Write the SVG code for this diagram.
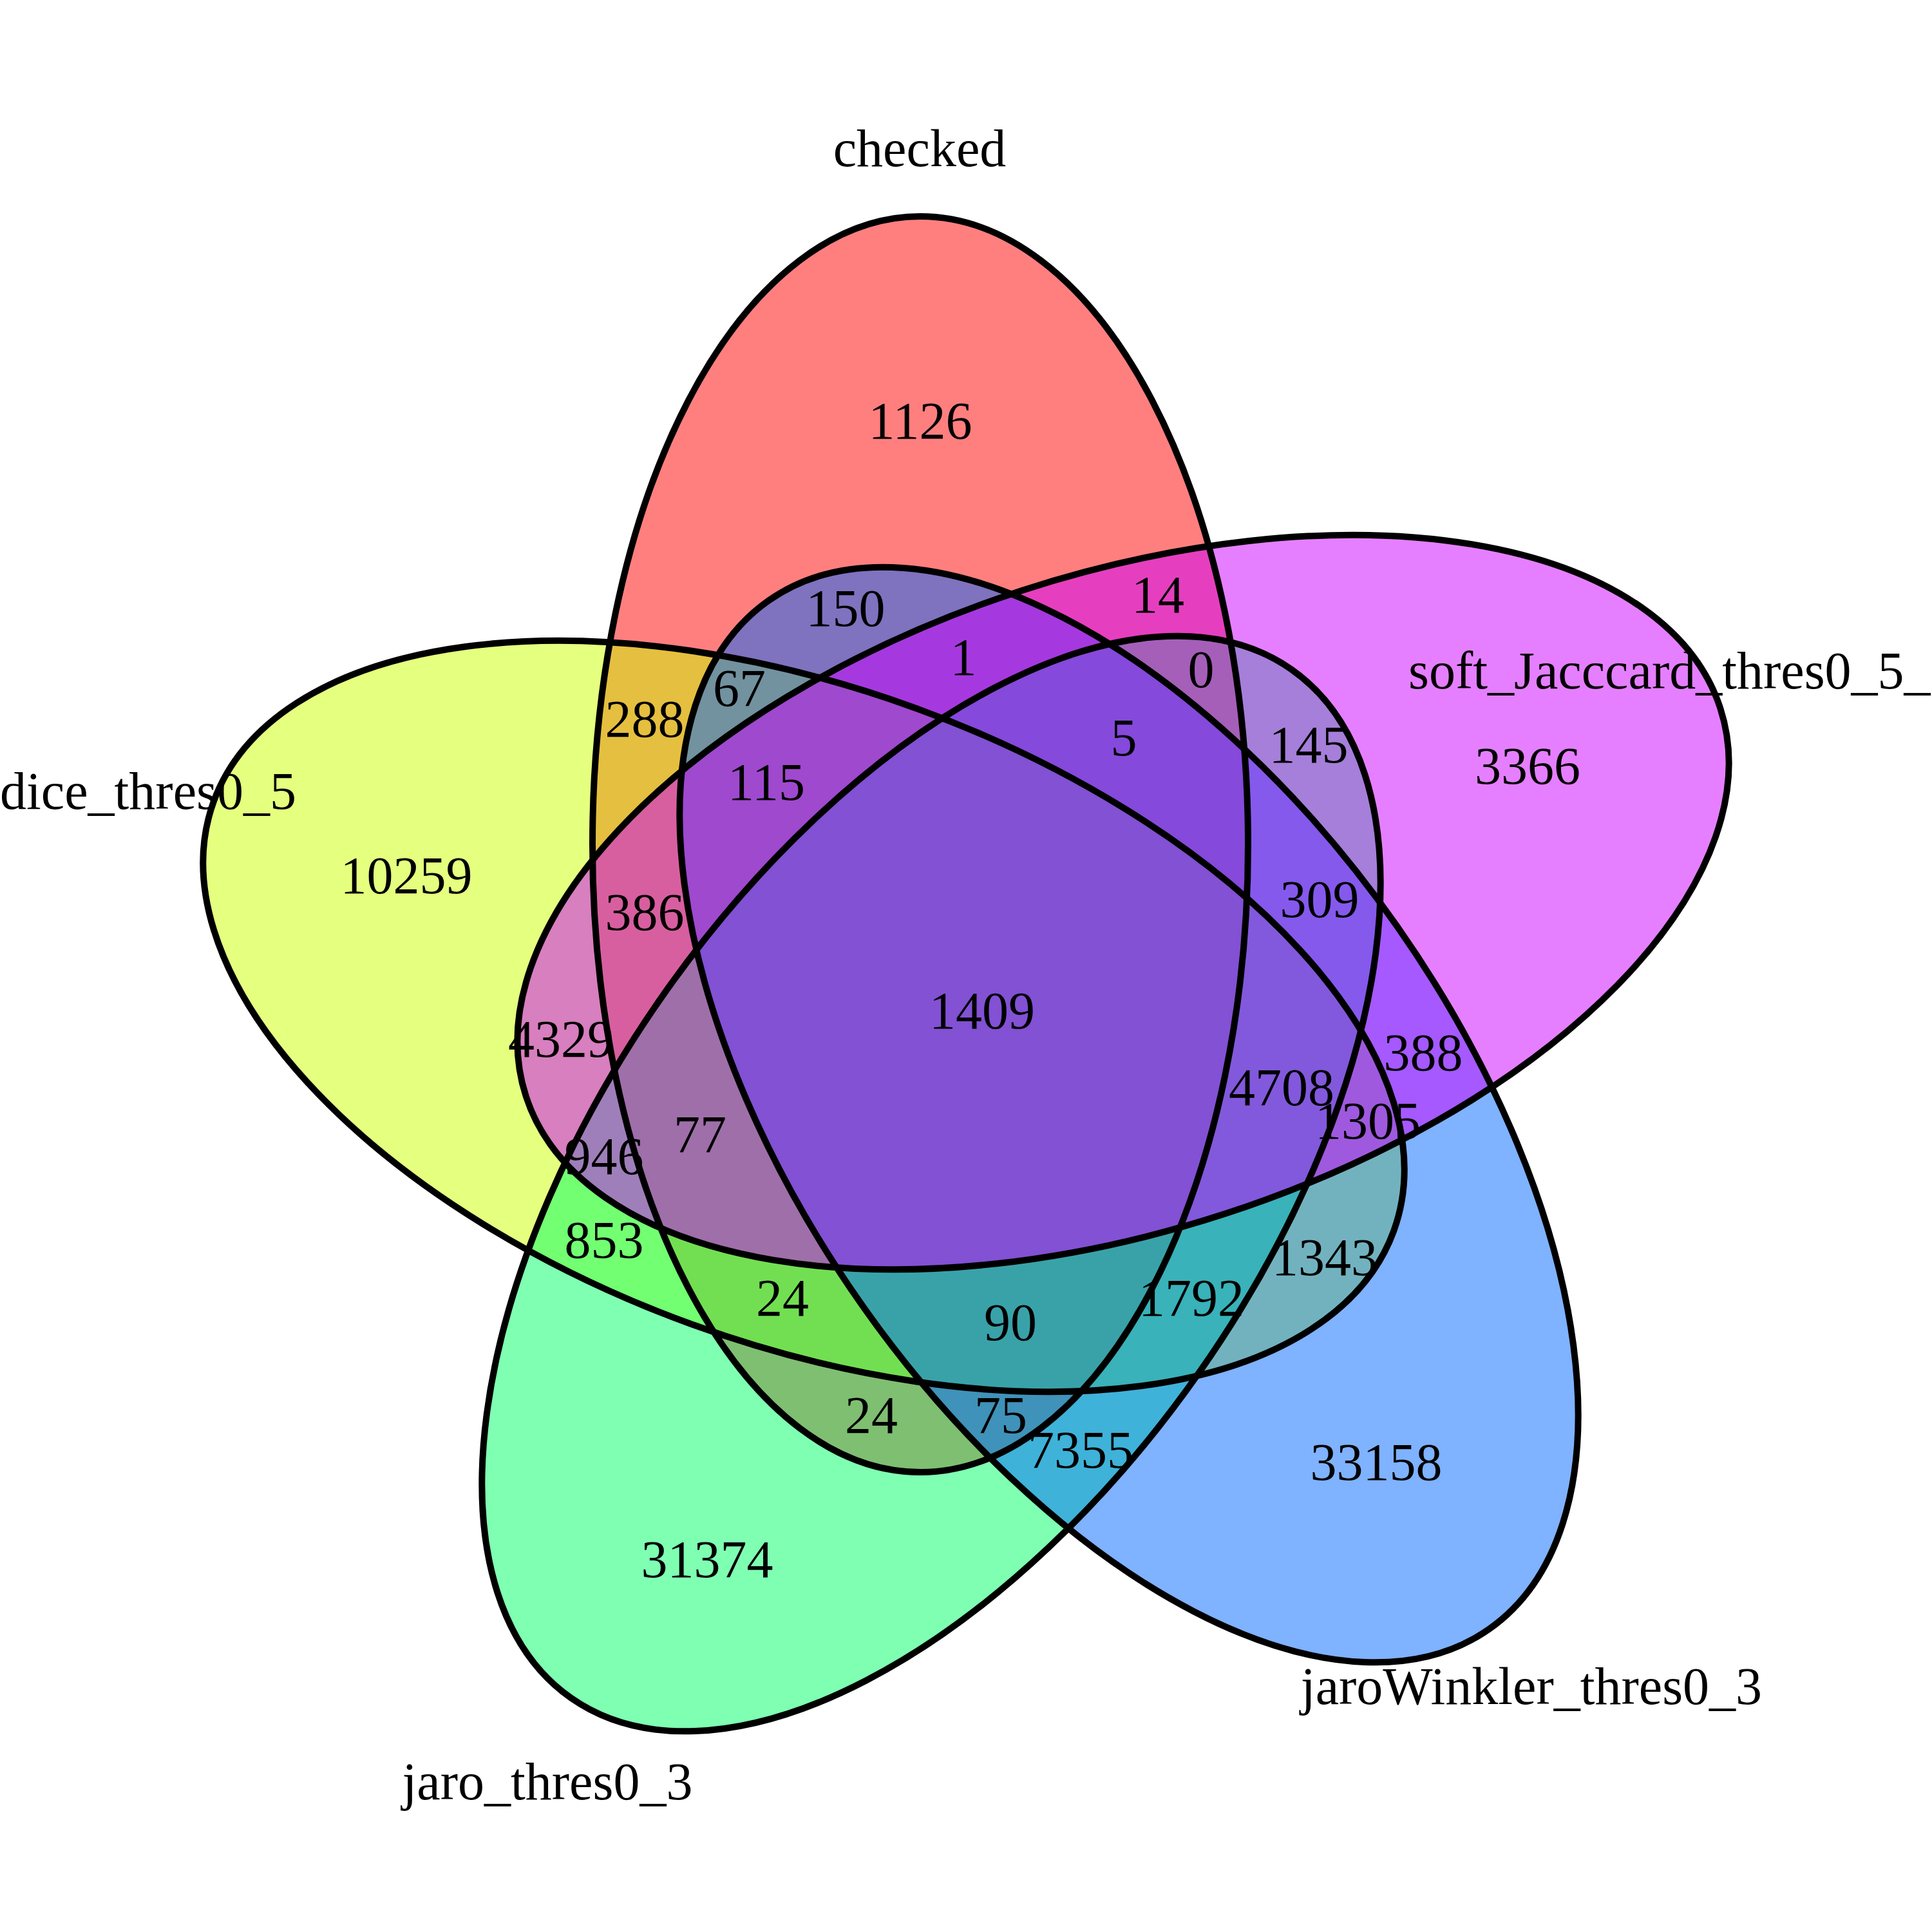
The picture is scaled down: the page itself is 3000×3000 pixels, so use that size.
<svg xmlns="http://www.w3.org/2000/svg" xmlns:xlink="http://www.w3.org/1999/xlink" width="3000" height="3000" viewBox="0 0 3000 3000">
<style>
.fill{stroke:none;fill-opacity:0.5}
.outline{fill:none;stroke:#000;stroke-width:10}
text{font-family:"Liberation Serif","Times New Roman",serif;font-size:82px;fill:#000}
.num{text-anchor:middle}
.cat{text-anchor:middle}
</style>
<defs>
<ellipse id="shape-checked" cx="1429" cy="1311" rx="509" ry="975"/>
<ellipse id="shape-dice" cx="0" cy="0" rx="509" ry="975" transform="translate(1248,1578) rotate(-70)"/>
<ellipse id="shape-jaro" cx="0" cy="0" rx="509" ry="975" transform="translate(1446,1838) rotate(-145)"/>
<ellipse id="shape-jaroWinkler" cx="0" cy="0" rx="509" ry="975" transform="translate(1753,1731) rotate(145)"/>
<ellipse id="shape-soft" cx="0" cy="0" rx="509" ry="975" transform="translate(1744,1401) rotate(72)"/>
</defs>
<rect width="3000" height="3000" fill="#fff"/>
<g id="set-checked"><use xlink:href="#shape-checked" class="fill" fill="#FF0000"/></g>
<g id="set-dice"><use xlink:href="#shape-dice" class="fill" fill="#CCFF00"/></g>
<g id="set-jaro"><use xlink:href="#shape-jaro" class="fill" fill="#00FF66"/></g>
<g id="set-jaroWinkler"><use xlink:href="#shape-jaroWinkler" class="fill" fill="#0066FF"/></g>
<g id="set-soft"><use xlink:href="#shape-soft" class="fill" fill="#CC00FF"/></g>
<g id="outlines">
<use xlink:href="#shape-checked" class="outline"/>
<use xlink:href="#shape-dice" class="outline"/>
<use xlink:href="#shape-jaro" class="outline"/>
<use xlink:href="#shape-jaroWinkler" class="outline"/>
<use xlink:href="#shape-soft" class="outline"/>
</g>
<g id="counts">
<text class="num" x="1429" y="681">1126</text>
<text class="num" x="1798" y="951">14</text>
<text class="num" x="1313" y="972">150</text>
<text class="num" x="1496" y="1048">1</text>
<text class="num" x="1865" y="1067">0</text>
<text class="num" x="1148" y="1096">67</text>
<text class="num" x="1001" y="1144">288</text>
<text class="num" x="1745" y="1173">5</text>
<text class="num" x="2032" y="1184">145</text>
<text class="num" x="1190" y="1242">115</text>
<text class="num" x="2372" y="1217">3366</text>
<text class="num" x="631" y="1387">10259</text>
<text class="num" x="1001" y="1444">386</text>
<text class="num" x="2049" y="1424">309</text>
<text class="num" x="1525" y="1597">1409</text>
<text class="num" x="871" y="1641">4329</text>
<text class="num" x="2210" y="1662">388</text>
<text class="num" x="1990" y="1716">4708</text>
<text class="num" x="2124" y="1768">1305</text>
<text class="num" x="1087" y="1789">77</text>
<text class="num" x="938" y="1823">946</text>
<text class="num" x="938" y="1953">853</text>
<text class="num" x="2057" y="1980">1343</text>
<text class="num" x="1215" y="2043">24</text>
<text class="num" x="1850" y="2043">1792</text>
<text class="num" x="1569" y="2081">90</text>
<text class="num" x="1353" y="2225">24</text>
<text class="num" x="1554" y="2225">75</text>
<text class="num" x="1678" y="2279">7355</text>
<text class="num" x="2137" y="2298">33158</text>
<text class="num" x="1098" y="2449">31374</text>
</g>
<g id="category-labels">
<text class="cat" x="1428" y="258">checked</text>
<text class="cat" x="230" y="1256">dice_thres0_5</text>
<text x="2187" y="1069">soft_Jacccard_thres0_5_</text>
<text class="cat" x="2378" y="2646">jaroWinkler_thres0_3</text>
<text class="cat" x="850" y="2794">jaro_thres0_3</text>
</g>
</svg>
